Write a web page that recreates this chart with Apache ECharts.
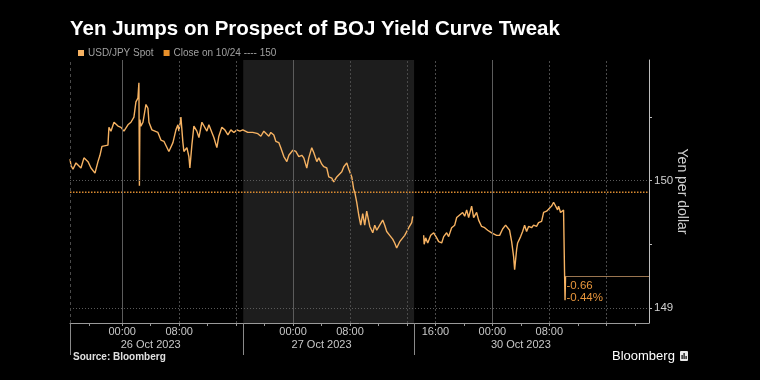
<!DOCTYPE html>
<html><head><meta charset="utf-8">
<script src="https://cdn.jsdelivr.net/npm/echarts@6/dist/echarts.min.js"></script>
<style>html,body{margin:0;padding:0;background:#000;} #c{width:760px;height:380px;}</style>
</head><body><div id="c"></div>
<script>
// ---- text ----
const chartTitle = 'Yen Jumps on Prospect of BOJ Yield Curve Tweak';
const spotName = 'USD/JPY Spot';
const closeName = 'Close on 10/24 ---- 150';
const yAxisName = 'Yen per dollar';
const sourceText = 'Source: Bloomberg';
const brandText = 'Bloomberg';

// ---- data (x = trading hours from chart start, weekend removed) ----
const spotHours = [0,0.14,0.42,0.84,1.12,1.54,1.96,2.53,2.95,3.51,3.93,4.21,4.49,4.77,5.33,5.47,5.75,6.18,6.74,7.16,7.58,8.14,8.56,8.98,9.26,9.54,9.68,9.75,9.82,9.96,10.25,10.67,10.95,11.09,11.51,11.79,12.35,12.77,13.19,13.47,13.89,14.46,14.88,15.16,15.30,15.58,15.86,16.00,16.42,16.70,16.84,17.12,17.40,17.82,18.11,18.53,18.81,19.23,19.51,19.93,20.21,20.63,20.91,21.33,21.75,22.18,22.60,23.02,23.44,23.86,24.28,24.98,25.68,26.39,26.81,27.23,27.51,27.93,28.21,28.63,28.91,29.33,29.61,30.04,30.46,30.74,31.30,31.72,32.14,32.56,32.84,33.26,33.54,33.96,34.25,34.67,34.95,35.37,35.65,36.07,36.35,36.77,37.05,37.47,37.75,38.18,38.46,38.88,39.16,39.58,39.86,40.00,40.28,40.56,40.84,41.12,41.40,41.68,42.11,42.53,42.81,43.09,43.51,43.93,44.21,44.49,44.91,45.33,45.61,45.89,46.32,46.74,47.02,47.30,47.58,48.00,48.14,
  48.90,
  49.68,49.75,49.96,50.25,50.67,51.09,51.51,51.79,52.21,52.49,52.91,53.19,53.61,54.04,54.32,54.74,55.16,55.44,55.72,56.00,56.42,56.70,57.12,57.40,57.82,58.25,58.67,59.23,59.51,59.93,60.35,60.77,61.19,61.47,61.75,62.04,62.32,62.46,62.74,62.88,63.30,63.58,63.86,64.14,64.42,64.84,65.12,65.54,65.82,66.25,66.53,66.95,67.23,67.65,67.93,68.21,68.49,68.63,68.91,69.19,69.33,69.47,69.54,69.61];
const spotValues = [150.17,150.12,150.09,150.14,150.15,150.10,150.18,150.15,150.10,150.06,150.15,150.20,150.27,150.26,150.28,150.42,150.39,150.46,150.43,150.42,150.39,150.44,150.46,150.50,150.62,150.65,150.77,149.96,150.48,150.43,150.46,150.60,150.57,150.46,150.40,150.39,150.38,150.32,150.31,150.31,150.23,150.30,150.40,150.44,150.39,150.50,150.30,150.23,150.26,150.19,150.10,150.28,150.43,150.39,150.34,150.46,150.46,150.39,150.44,150.38,150.34,150.26,150.35,150.42,150.40,150.36,150.40,150.38,150.40,150.39,150.40,150.38,150.38,150.37,150.35,150.39,150.38,150.35,150.38,150.36,150.31,150.30,150.26,150.19,150.15,150.20,150.24,150.23,150.19,150.20,150.18,150.10,150.18,150.26,150.22,150.15,150.18,150.13,150.11,150.10,150.03,150.02,149.99,150.03,150.02,150.07,150.11,150.14,150.09,150.03,149.93,149.91,149.83,149.73,149.65,149.74,149.65,149.76,149.64,149.59,149.65,149.61,149.65,149.69,149.65,149.60,149.57,149.54,149.51,149.47,149.52,149.55,149.57,149.56,149.63,149.67,149.72,
  null,
  149.57,149.50,149.55,149.51,149.57,149.59,149.55,149.52,149.51,149.56,149.59,149.56,149.63,149.65,149.71,149.73,149.75,149.72,149.77,149.71,149.80,149.71,149.75,149.69,149.64,149.63,149.61,149.59,149.60,149.57,149.57,149.62,149.65,149.66,149.61,149.52,149.40,149.30,149.46,149.51,149.56,149.60,149.65,149.60,149.64,149.63,149.65,149.64,149.67,149.68,149.75,149.76,149.77,149.80,149.83,149.83,149.77,149.80,149.75,149.76,149.77,149.28,149.06,149.25];
const closeValue = 149.91;
const changeText = '-0.66';
const changePctText = '-0.44%';

// ---- axes ----
const yMin = 148.88, yMax = 150.95;
const yTickValues = [149, 149.5, 150, 150.5];
const yLabelValues = [149, 150];
const xMin = 0, xMax = 81.333;
const xTickHours = [2.667,7.333,11.333,15.333,19.333,23.333,27.333,31.333,35.333,39.333,43.333,47.333,51.333,55.333,59.333,63.333,67.333,71.333,75.333,79.333];
const timeLabelHours = [7.333,15.333,31.333,39.333,51.333,59.333,67.333];
const timeLabelTexts = ['00:00','08:00','00:00','08:00','16:00','00:00','08:00'];
const dateLabelHours = [11.333,35.333,63.333];
const dateLabelTexts = ['26 Oct 2023','27 Oct 2023','30 Oct 2023'];
const sessionBoundaryHours = [0,24.333,48.333];
const midnightHours = [7.333,31.333,59.333];
const otherGridHours = [15.333,23.333,39.333,47.333,51.333,67.333,75.333];
const shadedSession = [24.333,48.333];

function lookup(keys, texts, v) {
  for (let i = 0; i < keys.length; i++) if (Math.abs(keys[i] - v) < 0.01) return texts[i];
  return '';
}

const FONT = '"Liberation Sans", Arial, sans-serif';
const spotData = spotHours.map((h, i) => [h, spotValues[i] == null ? '-' : spotValues[i]]);
const lastIdx = spotHours.length - 1;

const gridLines = [
  ...yLabelValues.map(v => ({ yAxis: v, lineStyle: { color: '#5a5a5a', type: [1, 2], width: 1 } })),
  ...midnightHours.map(h => ({ xAxis: h, lineStyle: { color: '#5c5c5c', type: 'solid', width: 1 } })),
  ...otherGridHours.map(h => ({ xAxis: h, lineStyle: { color: '#4a4a4a', type: [2, 2], width: 1 } })),
  { xAxis: xMin, lineStyle: { color: '#4a4a4a', type: [3, 3], width: 1 } }
];

const chart = echarts.init(document.getElementById('c'), null, { renderer: 'canvas' });
chart.setOption({
  backgroundColor: '#000',
  animation: false,
  textStyle: { fontFamily: FONT },
  title: {
    text: chartTitle, left: 70, top: 19, padding: 0,
    textStyle: { color: '#fff', fontSize: 20.5, fontWeight: 'bold', fontFamily: FONT }
  },
  legend: {
    left: 78, top: 48, padding: 0, itemWidth: 6, itemHeight: 6, itemGap: 10,
    textStyle: { color: '#a0a0a0', fontSize: 10, fontFamily: FONT, padding: [0, 0, 0, -1] },
    data: [
      { name: spotName, icon: 'rect', itemStyle: { color: '#f6b262' } },
      { name: closeName, icon: 'rect', itemStyle: { color: '#e8902a' } }
    ]
  },
  grid: { left: 70, right: 111, top: 60, bottom: 57, containLabel: false },
  xAxis: [
    {
      type: 'value', min: xMin, max: xMax, position: 'bottom',
      axisLine: { show: true, onZero: false, lineStyle: { color: '#9a9a9a', width: 1 } },
      axisTick: { show: true, customValues: xTickHours, length: 3, lineStyle: { color: '#9a9a9a' } },
      axisLabel: {
        customValues: timeLabelHours, margin: 3, color: '#c8c8c8', fontSize: 11, fontFamily: FONT,
        formatter: v => lookup(timeLabelHours, timeLabelTexts, v)
      },
      splitLine: { show: false }
    },
    {
      type: 'value', min: xMin, max: xMax, position: 'bottom',
      axisLine: { show: false, onZero: false }, axisTick: { show: false },
      axisLabel: {
        customValues: dateLabelHours, margin: 16, color: '#c8c8c8', fontSize: 11, fontFamily: FONT,
        formatter: v => lookup(dateLabelHours, dateLabelTexts, v)
      },
      splitLine: { show: false }
    },
    {
      type: 'value', min: xMin, max: xMax, position: 'bottom',
      axisLine: { show: false, onZero: false },
      axisTick: { show: true, customValues: sessionBoundaryHours, length: 32, lineStyle: { color: '#8a8a8a' } },
      axisLabel: { show: false },
      splitLine: { show: false }
    }
  ],
  yAxis: {
    type: 'value', min: yMin, max: yMax, position: 'right',
    name: yAxisName, nameLocation: 'middle', nameRotate: -90, nameGap: 26, nameMoveOverlap: false,
    nameTextStyle: { color: '#cfcfcf', fontSize: 14, fontFamily: FONT },
    axisLine: { show: true, onZero: false, lineStyle: { color: '#bdbdbd', width: 1 } },
    axisTick: { show: true, customValues: yTickValues, length: 3, lineStyle: { color: '#bdbdbd' } },
    axisLabel: { customValues: yLabelValues, margin: 5, color: '#d0d0d0', fontSize: 11.5, fontFamily: FONT },
    splitLine: { show: false }
  },
  series: [
    {
      name: closeName, type: 'line', xAxisIndex: 0, showSymbol: false, silent: true,
      data: [[xMin, closeValue], [xMax, closeValue]],
      lineStyle: { color: '#d98a30', width: 1.5, type: [1.5, 1.5] },
      itemStyle: { color: '#e8902a' },
      markArea: {
        silent: true,
        itemStyle: { color: '#1d1d1d' },
        data: [[{ xAxis: shadedSession[0] }, { xAxis: shadedSession[1] }]]
      },
      markLine: { silent: true, symbol: ['none', 'none'], label: { show: false }, data: gridLines },
      z: 2
    },
    {
      name: spotName, type: 'line', xAxisIndex: 0, showSymbol: false, connectNulls: false,
      data: spotData,
      lineStyle: { color: '#f6b262', width: 1.4 },
      itemStyle: { color: '#f6b262' },
      markLine: {
        silent: true, symbol: ['none', 'none'],
        lineStyle: { color: '#9a7550', width: 1, type: 'solid' },
        label: {
          show: true, position: 'insideStartBottom', distance: [1, 4],
          formatter: changeText + '\n' + changePctText,
          color: '#e8963c', fontSize: 11.5, lineHeight: 12, fontFamily: FONT, align: 'left'
        },
        data: [[{ coord: [spotHours[lastIdx], spotValues[lastIdx]] }, { coord: [xMax, spotValues[lastIdx]] }]]
      },
      z: 3
    }
  ],
  graphic: [
    { type: 'text', left: 73, top: 352, style: { text: sourceText, fill: '#e0e0e0', font: 'bold 10px ' + FONT } },
    { type: 'text', left: 612, top: 350, style: { text: brandText, fill: '#ffffff', font: '13px ' + FONT } },
    { type: 'group', left: 680, top: 351, children: [
      { type: 'rect', shape: { x: 0, y: 0, width: 8, height: 10, r: 1 }, style: { fill: '#e8e8e8' } },
      { type: 'rect', shape: { x: 1.5, y: 4, width: 1.2, height: 4 }, style: { fill: '#000' } },
      { type: 'rect', shape: { x: 3.5, y: 2, width: 1.2, height: 6 }, style: { fill: '#000' } },
      { type: 'rect', shape: { x: 5.5, y: 5, width: 1.2, height: 3 }, style: { fill: '#000' } }
    ] }
  ]
});
</script></body></html>
